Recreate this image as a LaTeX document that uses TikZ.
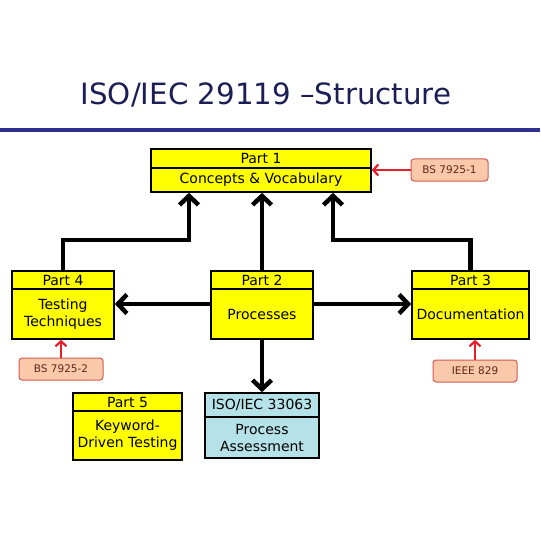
\documentclass[tikz,border=0pt]{standalone}
\usepackage{fontspec}
\setmainfont{DejaVu Sans}
\usetikzlibrary{arrows.meta,calc}
\definecolor{titleblue}{RGB}{28,30,86}
\definecolor{rulecol}{RGB}{46,49,146}
\definecolor{ylw}{RGB}{255,255,0}
\definecolor{lblue}{RGB}{180,226,232}
\definecolor{peach}{RGB}{249,201,170}
\definecolor{peachline}{RGB}{214,90,80}
\definecolor{peachtext}{RGB}{100,35,25}
\definecolor{redarrow}{RGB}{232,30,40}
\tikzset{
  hdr/.style={draw=black, line width=1.6pt, fill=ylw, inner sep=0pt, font=\fontsize{14}{15}\selectfont},
  bdy/.style={draw=black, line width=1.6pt, fill=ylw, inner sep=0pt, align=center, font=\fontsize{14}{17}\selectfont},
  refbox/.style={draw=peachline, line width=1pt, fill=peach, rounded corners=3pt, inner sep=0pt, text=peachtext, font=\fontsize{10.5}{12}\selectfont},
  blk/.style={draw=black, line width=4.5pt, -{Straight Barb[length=9pt,width=19pt]}},
  redarr/.style={draw=redarrow, line width=2.2pt, -{Straight Barb[length=5pt,width=11pt]}}
}
\begin{document}
\begin{tikzpicture}[x=1pt,y=-1pt]
\useasboundingbox[fill=white] (0,0) rectangle (540,540);
% title
\node[text=titleblue, font=\fontsize{29.3}{32}\selectfont, inner sep=0pt] (title) at (266,95) {ISO/IEC 29119 –Structure};
\draw[rulecol, line width=4pt] (0,130) -- (540,130);
% Part 1
\node[hdr, minimum width=220pt, minimum height=19pt] (p1h) at (261,158.5) {Part 1};
\node[bdy, minimum width=220pt, minimum height=24pt] (p1b) at (261,180) {Concepts \& Vocabulary};
% Part 4
\node[hdr, minimum width=102pt, minimum height=18pt] (p4h) at (63,280) {Part 4};
\node[bdy, minimum width=102pt, minimum height=50pt] (p4b) at (63,314) {Testing\\Techniques};
% Part 2
\node[hdr, minimum width=102pt, minimum height=18pt] (p2h) at (262,280) {Part 2};
\node[bdy, minimum width=102pt, minimum height=50pt] (p2b) at (262,314) {Processes};
% Part 3
\node[hdr, minimum width=117pt, minimum height=18pt] (p3h) at (470.5,280) {Part 3};
\node[bdy, minimum width=117pt, minimum height=50pt] (p3b) at (470.5,314) {Documentation};
% Part 5
\node[hdr, minimum width=109pt, minimum height=18pt] (p5h) at (127.5,402) {Part 5};
\node[bdy, minimum width=109pt, minimum height=49pt] (p5b) at (127.5,435.5) {Keyword-\\Driven Testing};
% ISO/IEC 33063
\node[hdr, fill=lblue, minimum width=114pt, minimum height=24pt] (isoh) at (262,405) {ISO/IEC 33063};
\node[bdy, fill=lblue, minimum width=114pt, minimum height=41pt] (isob) at (262,437.5) {Process\\Assessment};
% reference boxes
\node[refbox, minimum width=77pt, minimum height=22pt] (bs1) at (449.5,170) {BS 7925-1};
\node[refbox, minimum width=84pt, minimum height=22pt] (bs2) at (61,369) {BS 7925-2};
\node[refbox, minimum width=84pt, minimum height=22pt] (ieee) at (475,371) {IEEE 829};
% black connectors
\coordinate (j1) at (189,240);
\coordinate (j2) at (333,240);
\draw[blk] (p4h.north) |- (j1) -- (j1 |- p1b.south);
\draw[blk] (p3h.north) |- (j2) -- (j2 |- p1b.south);
\draw[blk] (p2h.north) -- (p2h.north |- p1b.south);
\coordinate (hl) at (0,304);
\draw[blk] (p2b.west |- hl) -- (p4b.east |- hl);
\draw[blk] (p2b.east |- hl) -- (p3b.west |- hl);
\draw[blk] (p2b.south) -- (isoh.north);
% red connectors
\draw[redarr] (bs1.west) -- (bs1.west -| p1b.east);
\draw[redarr] (bs2.north) -- (bs2.north |- p4b.south);
\draw[redarr] (ieee.north) -- (ieee.north |- p3b.south);
\end{tikzpicture}
\end{document}
